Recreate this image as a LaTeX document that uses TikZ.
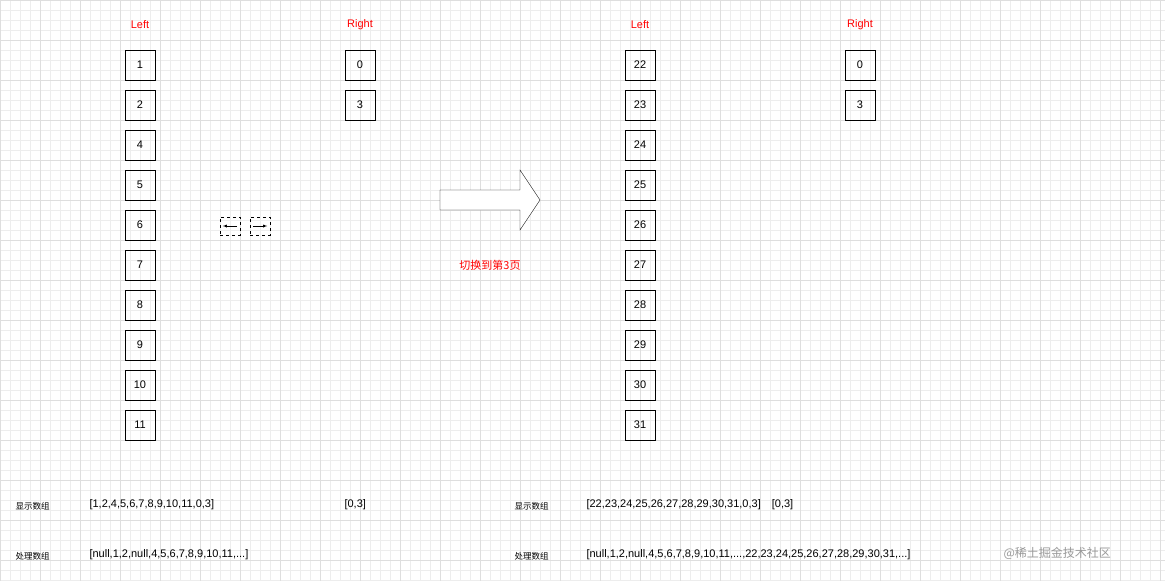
\documentclass[tikz,border=0pt]{standalone}
\usepackage{fontspec}
\setmainfont{Liberation Sans}
\newfontfamily\cjk{Noto Sans CJK SC}
\usetikzlibrary{calc}
\begin{document}
\begin{tikzpicture}[x=1pt,y=-1pt,
  cell/.style={draw,thick,minimum width=30pt,minimum height=30pt,inner sep=0pt,font=\fontsize{11}{13}\selectfont},
  hdr/.style={text=red,font=\fontsize{11}{13}\selectfont},
  lbl/.style={anchor=west,font=\cjk\fontsize{8.5}{10}\selectfont},
  arr/.style={anchor=west,font=\fontsize{11}{13}\selectfont},
  sm/.style={draw,dashed,minimum width=20pt,minimum height=18pt,inner sep=0pt}]
\useasboundingbox (0,0) rectangle (1165,581);
\fill[white] (0,0) rectangle (1165,581);
\draw[black!7,line width=0.4pt] (0,0) grid[step=10pt] (1165,581);
\draw[black!13,line width=0.6pt] (0,0) grid[step=40pt] (1165,581);
\node[hdr] (L1) at (140,25) {Left};
\node[hdr] (R1) at (360,25) {Right};
\node[hdr] (L2) at (640,25) {Left};
\node[hdr] (R2) at (860,25) {Right};
\foreach \v [count=\i] in {1,2,4,5,6,7,8,9,10,11} \node[cell] (a\i) at (140,25+40*\i) {\v};
\foreach \v [count=\i] in {22,23,24,25,26,27,28,29,30,31} \node[cell] (b\i) at (640,25+40*\i) {\v};
\node[cell] (r1) at (360,65) {0};
\node[cell] (r2) at (360,105) {3};
\node[cell] (s1) at (860,65) {0};
\node[cell] (s2) at (860,105) {3};
\node[sm] (p) at (230,226) {};
\node[sm] (n) at (260,226) {};
\draw[-latex] ($(p.east)+(-3,0)$) -- ($(p.west)+(3,0)$);
\draw[-latex] ($(n.west)+(3,0)$) -- ($(n.east)+(-3,0)$);
\draw[fill=white] (440,190) -- (520,190) -- (520,170) -- (540,200) -- (520,230) -- (520,210) -- (440,210) -- cycle;
\node[text=red,font=\cjk\fontsize{11}{13}\selectfont] (t) at (490,265) {切换到第3页};
\node[lbl] (d1) at (12,506) {显示数组};
\node[arr] (d1a) at (86,505) {[1,2,4,5,6,7,8,9,10,11,0,3]};
\node[arr] (d1b) at (341,505) {[0,3]};
\node[lbl] (c1) at (12,556) {处理数组};
\node[arr] (c1a) at (86,555) {[null,1,2,null,4,5,6,7,8,9,10,11,...]};
\node[lbl] (d2) at (511,506) {显示数组};
\node[arr] (d2a) at (583,505) {[22,23,24,25,26,27,28,29,30,31,0,3]\quad [0,3]};
\node[lbl] (c2) at (511,556) {处理数组};
\node[arr] (c2a) at (583,555) {[null,1,2,null,4,5,6,7,8,9,10,11,...,22,23,24,25,26,27,28,29,30,31,...]};
\node[anchor=west,text=black!40,font=\cjk\fontsize{12}{14}\selectfont] (w) at (1000,553) {@稀土掘金技术社区};
\end{tikzpicture}
\end{document}
